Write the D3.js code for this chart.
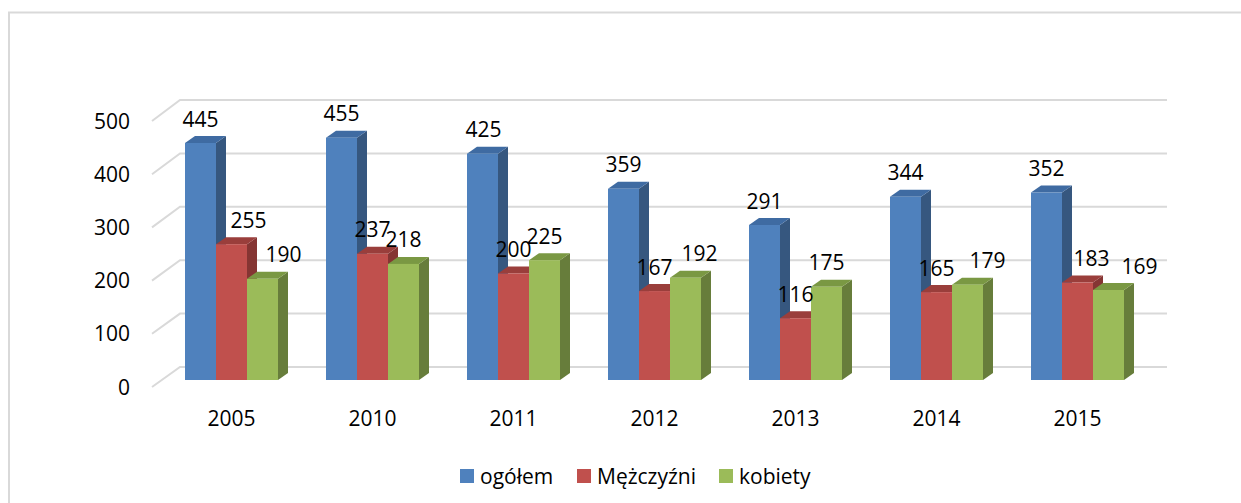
<!DOCTYPE html>
<html>
<head>
<meta charset="utf-8">
<script src="https://cdn.jsdelivr.net/npm/d3@7/dist/d3.min.js"></script>
<style>
  body { margin: 0; background: #fff; }
  text { font-family: "Open Sans", "DejaVu Sans", sans-serif; fill: #000; }
</style>
</head>
<body>
<div id="chart"></div>
<script>
var years = ["2005", "2010", "2011", "2012", "2013", "2014", "2015"];
var seriesNames = ["ogółem", "Mężczyźni", "kobiety"];
var ogolem = [445, 455, 425, 359, 291, 344, 352];
var mezczyzni = [255, 237, 200, 167, 116, 165, 183];
var kobiety = [190, 218, 225, 192, 175, 179, 169];
var yTicks = [0, 100, 200, 300, 400, 500];

var W = 1241, H = 503;
var fontSize = 21;
// face colours per series: front, side, top
var colors = [
  ["#4f81bd", "#36577f", "#3f6ba2"],
  ["#c0504d", "#853533", "#9a3e3b"],
  ["#9bbb59", "#677d3b", "#7a9843"]
];
var depth = [10, 7]; // bar depth offset (dx, dy)
// manual nudges of data labels (Excel moved some of them sideways)
var labelNudge = [
  [0, 17, 21], [0, 0, 0], [1, 0, 0], [0, 0, 14],
  [0, 0, 0], [0, 0, 20], [0, 14, 31]
];

var values = [ogolem, mezczyzni, kobiety];

var svg = d3.select("#chart").append("svg")
  .attr("width", W).attr("height", H);

// chart frame
svg.append("rect")
  .attr("x", 9).attr("y", 12.5)
  .attr("width", W + 20).attr("height", H + 20)
  .attr("fill", "#fff")
  .attr("stroke", "#d9d9d9").attr("stroke-width", 2);

// y scales: front edge of floor, back wall, bars
var yFront = d3.scaleLinear().domain([0, 500]).range([387, 121]);
var yBack = d3.scaleLinear().domain([0, 500]).range([367, 100]);
var yBar = d3.scaleLinear().domain([0, 500]).range([380, 113.7]);

var x0 = d3.scaleBand().domain(years).range([161, 1148]);
var x1 = d3.scaleBand().domain(d3.range(3)).range([-46.5, 46.5]);

// gridlines (side wall diagonal + back wall)
var grid = svg.append("g").attr("stroke", "#d9d9d9").attr("stroke-width", 2).attr("fill", "none");
grid.selectAll("path").data(yTicks).enter().append("path")
  .attr("d", function(d) {
    return "M152," + yFront(d) + "L180," + yBack(d) + "L1167," + yBack(d);
  });

// y labels
svg.append("g").selectAll("text").data(yTicks).enter().append("text")
  .attr("x", 130).attr("y", function(d) { return yFront(d); })
  .attr("dy", "0.36em")
  .attr("text-anchor", "end")
  .attr("font-size", fontSize)
  .text(function(d) { return d; });

// bars
var bars = [];
years.forEach(function(y, i) {
  for (var s = 0; s < 3; s++) bars.push({ year: y, i: i, s: s, v: values[s][i] });
});

var g = svg.append("g");
bars.forEach(function(b) {
  var xl = x0(b.year) + x0.bandwidth() / 2 + x1(b.s);
  var xr = xl + x1.bandwidth();
  var yt = yBar(b.v), yb = yBar(0);
  var dx = depth[0], dy = depth[1];
  var bg = g.append("g");
  bg.append("path")
    .attr("d", "M" + xr + "," + yt + "L" + (xr + dx) + "," + (yt - dy) + "L" + (xr + dx) + "," + (yb - dy) + "L" + xr + "," + yb + "Z")
    .attr("fill", colors[b.s][1]);
  bg.append("path")
    .attr("d", "M" + xl + "," + yt + "L" + (xl + dx) + "," + (yt - dy) + "L" + (xr + dx) + "," + (yt - dy) + "L" + xr + "," + yt + "Z")
    .attr("fill", colors[b.s][2]);
  bg.append("rect")
    .attr("x", xl).attr("y", yt)
    .attr("width", xr - xl).attr("height", yb - yt)
    .attr("fill", colors[b.s][0]);
});

// data labels
svg.append("g").selectAll("text").data(bars).enter().append("text")
  .attr("x", function(b) {
    return x0(b.year) + x0.bandwidth() / 2 + x1(b.s) + x1.bandwidth() / 2 + labelNudge[b.i][b.s];
  })
  .attr("y", function(b) { return yBar(b.v) - 24; })
  .attr("dy", "0.36em")
  .attr("text-anchor", "middle")
  .attr("font-size", fontSize)
  .text(function(b) { return b.v; });

// category labels
svg.append("g").selectAll("text").data(years).enter().append("text")
  .attr("x", function(d) { return x0(d) + x0.bandwidth() / 2; })
  .attr("y", 418)
  .attr("dy", "0.36em")
  .attr("text-anchor", "middle")
  .attr("font-size", fontSize)
  .text(function(d) { return d; });

// legend
var legendX = [460, 577, 719];
var lg = svg.append("g");
seriesNames.forEach(function(n, i) {
  lg.append("rect")
    .attr("x", legendX[i]).attr("y", 469)
    .attr("width", 14).attr("height", 14)
    .attr("fill", colors[i][0]);
  lg.append("text")
    .attr("x", legendX[i] + 20).attr("y", 476)
    .attr("dy", "0.36em")
    .attr("font-size", fontSize)
    .text(n);
});
</script>
</body>
</html>
